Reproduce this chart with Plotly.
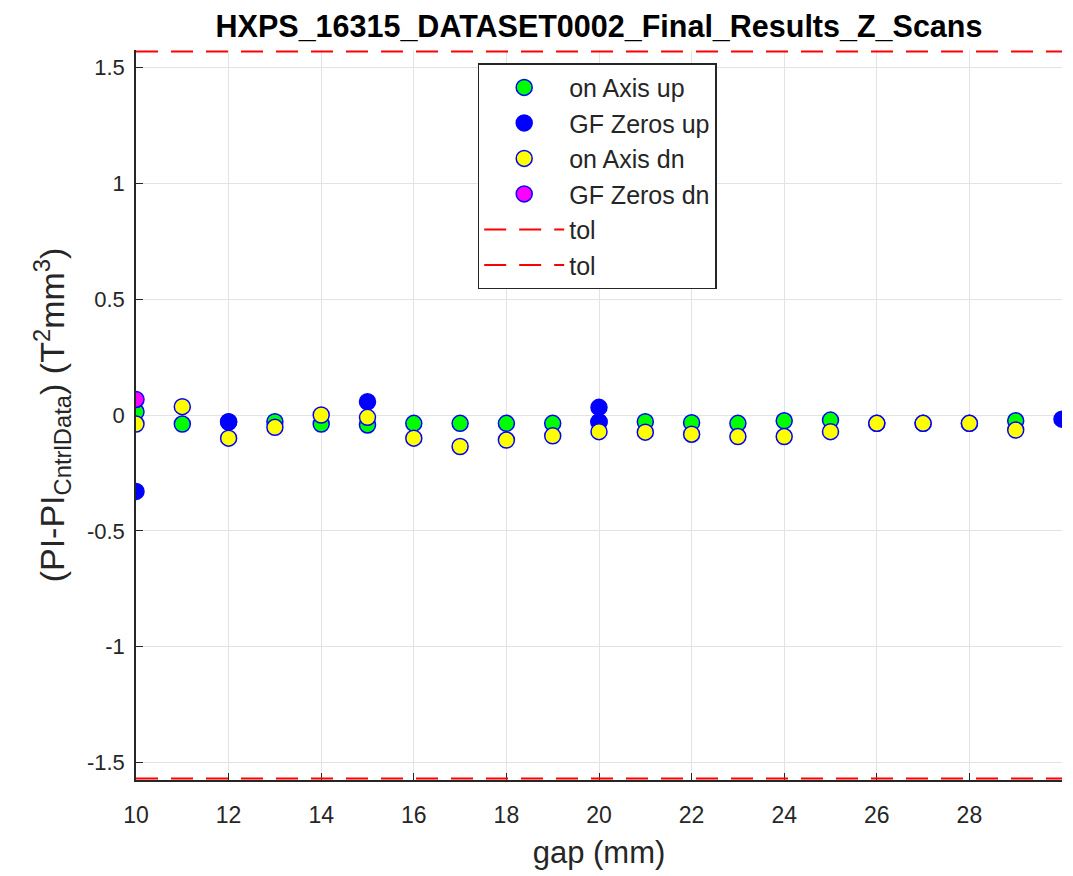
import plotly.graph_objects as go

# ---- data ----
gap_on = list(range(10, 30))
on_axis_up = [0.014, -0.039, -0.030, -0.029, -0.039, -0.043, -0.036, -0.036, -0.036, -0.036,
              -0.030, -0.029, -0.033, -0.036, -0.025, -0.022, -0.036, -0.036, -0.036, -0.025]
on_axis_dn = [-0.039, 0.036, -0.100, -0.053, 0.000, -0.010, -0.100, -0.136, -0.108, -0.090,
              -0.072, -0.074, -0.083, -0.093, -0.093, -0.072, -0.036, -0.036, -0.036, -0.065]
gap_gf_up = [10, 12, 15, 20, 20, 30]
gf_zeros_up = [-0.330, -0.029, 0.057, 0.033, -0.030, -0.018]
gap_gf_dn = [10]
gf_zeros_dn = [0.067]
tol_levels = [1.57, -1.57]
x_range = [10, 30]
y_range = [-1.576, 1.576]
x_ticks = [10, 12, 14, 16, 18, 20, 22, 24, 26, 28]
y_ticks = [-1.5, -1, -0.5, 0, 0.5, 1, 1.5]
y_ticklabels = ["-1.5", "-1", "-0.5", "0", "0.5", "1", "1.5"]

FONT = "Liberation Sans, Arial, Helvetica, sans-serif"
TXT = "#262626"
DASH = "22px,13px"

fig = go.Figure()

def marker_trace(x, y, color, name, grp):
    return go.Scatter(
        x=x, y=y, mode="markers", name=name, legendgroup=grp,
        marker=dict(size=16, color=color, line=dict(color="#0000ff", width=1.5)),
        cliponaxis=True,
    )

fig.add_trace(marker_trace(gap_on, on_axis_up, "#00ff00", "on Axis up", "a"))
fig.add_trace(marker_trace(gap_gf_up, gf_zeros_up, "#0000ff", "GF Zeros up", "b"))
fig.add_trace(marker_trace(gap_on, on_axis_dn, "#ffff00", "on Axis dn", "c"))
fig.add_trace(marker_trace(gap_gf_dn, gf_zeros_dn, "#ff00ff", "GF Zeros dn", "d"))

for val, grp in zip(tol_levels, ["e", "f"]):
    fig.add_trace(go.Scatter(
        x=x_range, y=[val, val], mode="lines", name="tol", legendgroup=grp,
        line=dict(color="#ff0000", width=2, dash=DASH),
    ))

fig.update_layout(
    width=1073, height=876,
    paper_bgcolor="white", plot_bgcolor="white",
    margin=dict(l=128, r=19, t=42, b=104),
    font=dict(family=FONT, size=22, color=TXT),
    title=dict(text="<b>HXPS_16315_DATASET0002_Final_Results_Z_Scans</b>",
               x=0.5, xref="paper", xanchor="center",
               y=1 - 18 / 876, yref="container", yanchor="middle",
               font=dict(size=30.5, color="black", family=FONT)),
    showlegend=True,
    legend=dict(x=0.369, y=0.982, xanchor="left", yanchor="top",
                bgcolor="white", bordercolor="#262626", borderwidth=1.5,
                font=dict(size=25, color=TXT, family=FONT),
                tracegroupgap=0, itemwidth=80),
    xaxis=dict(range=x_range, tickvals=x_ticks, showgrid=True, gridcolor="#e3e3e3",
               gridwidth=1, zeroline=False, showline=True, linecolor="#262626", linewidth=1.5,
               ticks="inside", ticklen=7, tickcolor="#262626", layer="below traces",
               tickfont=dict(size=23, color=TXT), ticklabelstandoff=14,
               title=dict(text="gap (mm)", font=dict(size=31, color=TXT), standoff=14)),
    yaxis=dict(range=y_range, tickvals=y_ticks, ticktext=y_ticklabels,
               showgrid=True, gridcolor="#e3e3e3", gridwidth=1, zeroline=False,
               showline=True, linecolor="#262626", linewidth=1.5,
               ticks="inside", ticklen=7, tickcolor="#262626", layer="below traces",
               tickfont=dict(size=22, color=TXT), ticklabelstandoff=5,
               title=dict(text="(PI-PI<sub>CntrlData</sub>) (T<sup>2</sup>mm<sup>3</sup>)",
                          font=dict(size=34, color=TXT), standoff=12)),
)

fig.write_html("out.html")
